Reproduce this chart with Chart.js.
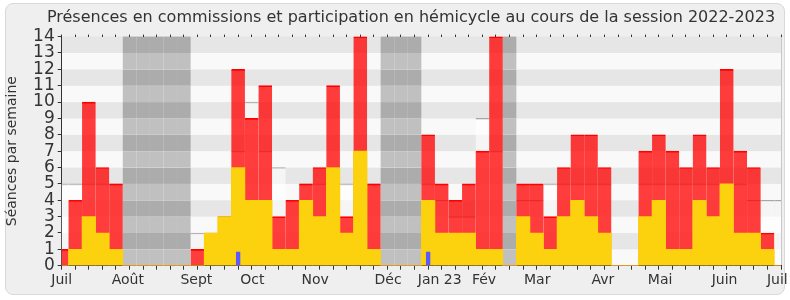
<!DOCTYPE html>
<html>
<head>
<meta charset="utf-8">
<script src="https://cdn.jsdelivr.net/npm/chart.js@4/dist/chart.umd.min.js"></script>
<style>
    html, body { margin: 0; padding: 0; background: #fff; }
    #cadre { position: absolute; left: 5px; top: 3px; width: 778px; height: 290px; border: 1px solid #d9d9d9; border-radius: 8px; background: #efefef; }
    #graphe { position: absolute; left: 0; top: 0; }
</style>
</head>
<body>
<div id="cadre"></div>
<canvas id="graphe" width="790" height="300"></canvas>
<script>
// semaines de la session (0 = début juillet 2022)
const semaines = [0, 1, 2, 3, 4, 5, 6, 7, 8, 9, 10, 11, 12, 13, 14, 15, 16, 17, 18, 19, 20, 21, 22, 23, 24, 25, 26,
    27, 28, 29, 30, 31, 32, 33, 34, 35, 36, 37, 38, 39, 40, 41, 42, 43, 44, 45, 46, 47, 48, 49, 50, 51, 52, 53];

// présences en commission (barre rouge, total)
const commissions = [1, 4, 10, 6, 5, 0, 0, 0, 0, 0, 1, 2, 3, 12, 9, 11, 3, 4, 5, 6, 11, 3, 14, 5, 0, 0, 0,
    8, 5, 4, 5, 7, 14, 0, 5, 5, 3, 6, 8, 8, 6, 0, 0, 7, 8, 7, 6, 8, 6, 12, 7, 6, 2, 0];

// participation en hémicycle (jaune)
const hemicycle = [0, 1, 3, 2, 1, 0, 0, 0, 0, 0, 0, 2, 3, 6, 4, 4, 1, 1, 4, 3, 6, 2, 7, 1, 0, 0, 0,
    4, 2, 2, 2, 1, 1, 0, 3, 2, 1, 3, 4, 3, 2, 0, 0, 3, 4, 1, 1, 4, 3, 5, 2, 2, 1, 0];

// questions orales (bleu)
const questions = [0, 0, 0, 0, 0, 0, 0, 0, 0, 0, 0, 0, 0, 0.85, 0, 0, 0, 0, 0, 0, 0, 0, 0, 0, 0, 0, 0,
    0.85, 0, 0, 0, 0, 0, 0, 0, 0, 0, 0, 0, 0, 0, 0, 0, 0, 0, 0, 0, 0, 0, 0, 0, 0, 0, 0];

// médiane des députés
const mediane = [5, 5, 5, 5, 5, 0, 0, 0, 0, 0, 2, 2, 3, 7, 10, 7, 6, 4, 5, 5, 6, 5, 7, 5, 0, 0, 0,
    5, 4, 3, 3, 9, 7, 0, 4, 4, 5, 5, 5, 5, 5, 0, 0, 5, 5, 5, 5, 5, 5, 5, 5, 4, 4, 4];

// vacances parlementaires
const vacances = [5, 6, 7, 8, 9, 24, 25, 26, 33];

// étiquettes des mois
const moisNoms = ['Juil', 'Août', 'Sept', 'Oct', 'Nov', 'Déc', 'Jan 23', 'Fév', 'Mar', 'Avr', 'Mai', 'Juin', 'Juil'];
const moisSemaines = [0, 4.87, 9.92, 14.05, 18.67, 24.05, 27.85, 31.12, 35.04, 39.87, 44.09, 48.84, 52.73];

const titre = 'Présences en commissions et participation en hémicycle au cours de la session 2022-2023';

Chart.defaults.font.family = 'DejaVu Sans';
Chart.defaults.color = '#333';

function points(valeurs) {
    return semaines.map((s, i) => ({ x: s, y: valeurs[i] }));
}

// bandes grises du fond + vacances
const fond = {
    id: 'fond',
    beforeDraw(chart) {
        const ctx = chart.ctx;
        const a = chart.chartArea;
        const x = chart.scales.x;
        const y = chart.scales.y;
        ctx.save();
        for (let v = 0; v < 14; v++) {
            let haut = y.getPixelForValue(v + 1);
            let bas = y.getPixelForValue(v);
            ctx.fillStyle = v % 2 ? '#e6e6e6' : '#f9f9f9';
            ctx.fillRect(a.left, haut, a.right - a.left, bas - haut);
            for (let s of vacances) {
                let g = Math.max(a.left, x.getPixelForValue(s - 0.5));
                let d = Math.min(a.right, x.getPixelForValue(s + 0.5));
                ctx.fillStyle = v % 2 ? '#acacac' : '#c0c0c0';
                ctx.fillRect(g, haut, d - g, bas - haut);
            }
        }
        ctx.strokeStyle = '#c8c8c8';
        ctx.lineWidth = 1;
        ctx.beginPath();
        ctx.moveTo(a.right + 0.5, a.top);
        ctx.lineTo(a.right + 0.5, a.bottom);
        ctx.stroke();
        ctx.restore();
    },
    afterDraw(chart) {
        const ctx = chart.ctx;
        ctx.save();
        ctx.font = '16px "DejaVu Sans"';
        ctx.fillStyle = '#333';
        ctx.textAlign = 'center';
        ctx.textBaseline = 'middle';
        ctx.fillText(titre, 411, 18);
        ctx.restore();
    }
};

const graphe = new Chart(document.getElementById('graphe'), {
    type: 'bar',
    data: {
        datasets: [{
            label: 'Questions orales',
            data: points(questions),
            backgroundColor: '#5a5aff',
            grouped: false,
            barPercentage: 0.32,
            categoryPercentage: 1,
            order: 0
        }, {
            label: 'Participation en hémicycle',
            data: points(hemicycle),
            backgroundColor: '#fcd20e',
            grouped: false,
            barPercentage: 1,
            categoryPercentage: 1,
            order: 1
        }, {
            label: 'Présences en commission',
            data: points(commissions),
            backgroundColor: 'rgba(255, 0, 0, 0.76)',
            borderColor: '#ff0000',
            borderWidth: { top: 1, left: 0, right: 0, bottom: 0 },
            borderSkipped: 'start',
            grouped: false,
            barPercentage: 1,
            categoryPercentage: 1,
            order: 2
        }, {
            label: 'Médiane',
            data: points(mediane),
            backgroundColor: 'rgba(255, 255, 255, 0.6)',
            borderColor: '#a6a6a6',
            borderWidth: { top: 1, left: 0, right: 0, bottom: 0 },
            borderSkipped: 'start',
            grouped: false,
            barPercentage: 1,
            categoryPercentage: 1,
            order: 3
        }]
    },
    options: {
        responsive: false,
        animation: false,
        layout: { padding: { left: 0, right: 9, top: 34.6, bottom: 10.3 } },
        plugins: {
            legend: { display: false },
            tooltip: { enabled: false }
        },
        scales: {
            x: {
                type: 'linear',
                min: 0,
                max: 53,
                offset: false,
                position: 'bottom',
                weight: 0,
                ticks: { display: false, stepSize: 1, autoSkip: false },
                grid: { offset: false, drawOnChartArea: false, tickLength: 4, tickColor: '#333' },
                border: { color: '#333' },
                afterFit: (ax) => { ax.height = 4; ax.paddingLeft = 0; ax.paddingRight = 0; }
            },
            mois: {
                type: 'linear',
                min: 0,
                max: 53,
                offset: false,
                position: 'bottom',
                weight: 1,
                afterBuildTicks: (ax) => { ax.ticks = moisSemaines.map(v => ({ value: v })); },
                ticks: {
                    autoSkip: false,
                    maxRotation: 0,
                    padding: -6,
                    font: { size: 14 },
                    color: '#333',
                    callback: (v, i) => moisNoms[i]
                },
                grid: { display: false, offset: false },
                border: { display: false },
                afterFit: (ax) => { ax.height = 20; ax.paddingLeft = 0; ax.paddingRight = 0; }
            },
            haut: {
                type: 'linear',
                min: 0,
                max: 53,
                offset: false,
                position: 'top',
                ticks: { display: false, stepSize: 1, autoSkip: false },
                grid: { offset: false, drawOnChartArea: false, tickLength: 2, tickColor: '#333' },
                border: { display: false },
                afterFit: (ax) => { ax.height = 2; ax.paddingLeft = 0; ax.paddingRight = 0; }
            },
            y: {
                min: 0,
                max: 14,
                ticks: { stepSize: 1, autoSkip: false, font: { size: 17 }, color: '#333' },
                grid: { drawOnChartArea: false, tickLength: 4, tickColor: '#333' },
                border: { color: '#333' },
                title: {
                    display: true,
                    text: 'Séances par semaine',
                    font: { size: 14 },
                    color: '#333',
                    padding: { top: 4, bottom: 0 }
                },
                afterFit: (ax) => { ax.width = 61.7; ax.paddingTop = 0; ax.paddingBottom = 0; }
            }
        }
    },
    plugins: [fond]
});
</script>
</body>
</html>
